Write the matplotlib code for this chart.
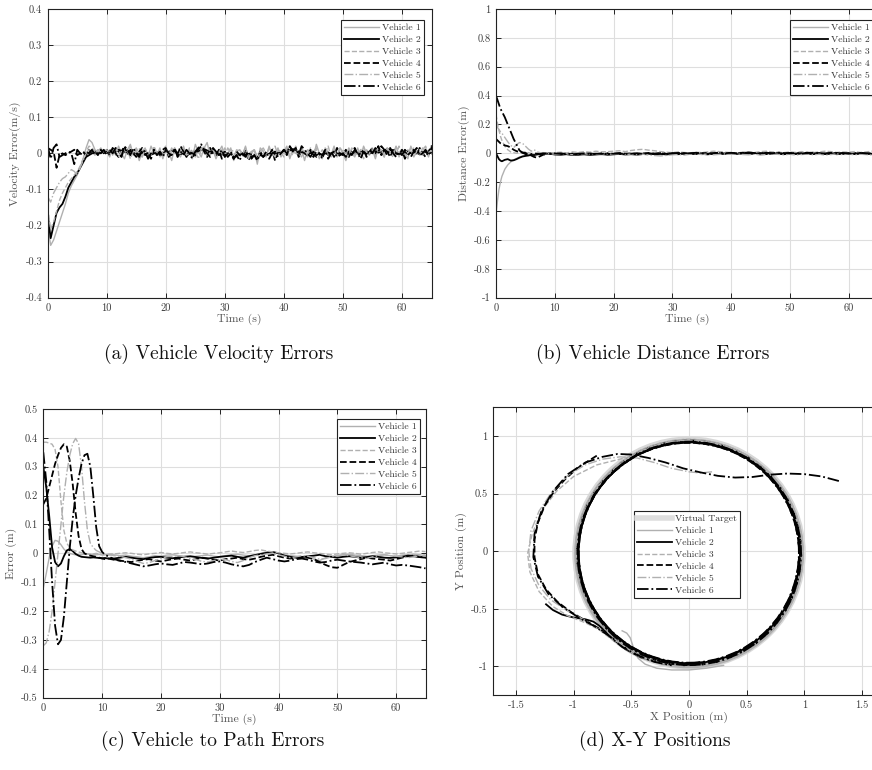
import numpy as np
import matplotlib
matplotlib.use('Agg')
import matplotlib.pyplot as plt
from matplotlib.lines import Line2D
from matplotlib.patches import Circle

plt.rcParams['font.family'] = ['cmr10', 'DejaVu Serif']
plt.rcParams['axes.unicode_minus'] = False
plt.rcParams['axes.formatter.use_mathtext'] = True

# ---------------- labels ----------------
vehicle_labels = ['Vehicle 1', 'Vehicle 2', 'Vehicle 3', 'Vehicle 4', 'Vehicle 5', 'Vehicle 6']
captions = ['(a) Vehicle Velocity Errors', '(b) Vehicle Distance Errors',
            '(c) Vehicle to Path Errors', '(d) X-Y Positions']

time_ticks = [0, 10, 20, 30, 40, 50, 60]
time_ticklabels = ['0', '10', '20', '30', '40', '50', '60']
vel_yticks = [-0.4, -0.3, -0.2, -0.1, 0, 0.1, 0.2, 0.3, 0.4]
vel_yticklabels = ['-0.4', '-0.3', '-0.2', '-0.1', '0', '0.1', '0.2', '0.3', '0.4']
dist_yticks = [-1, -0.8, -0.6, -0.4, -0.2, 0, 0.2, 0.4, 0.6, 0.8, 1]
dist_yticklabels = ['-1', '-0.8', '-0.6', '-0.4', '-0.2', '0', '0.2', '0.4', '0.6', '0.8', '1']
path_yticks = [-0.5, -0.4, -0.3, -0.2, -0.1, 0, 0.1, 0.2, 0.3, 0.4, 0.5]
path_yticklabels = ['-0.5', '-0.4', '-0.3', '-0.2', '-0.1', '0', '0.1', '0.2', '0.3', '0.4', '0.5']
xy_xticks = [-1.5, -1, -0.5, 0, 0.5, 1, 1.5]
xy_xticklabels = ['-1.5', '-1', '-0.5', '0', '0.5', '1', '1.5']
xy_yticks = [-1, -0.5, 0, 0.5, 1]
xy_yticklabels = ['-1', '-0.5', '0', '0.5', '1']

# ---------------- (a) velocity errors, mm/s, sampled every 0.5 s ----------------
vel_v1 = [-200, -255, -240, -215, -190, -165, -140, -110, -90, -75, -60, -40, -15, 15, 38, 30, 10, 5, 15, 0,
          5, -10, 15, -5, 20, 0, -15, 10, 25, -5, 10, -20, 5, 15, -10, 20, 0, -5, 15, -15,
          10, 5, -20, 15, 0, -10, 20, -5, 10, -15, 25, 5, -10, 15, 30, -5, 10, -15, 5, 20,
          -10, 0, 15, -20, 5, 10, -5, 20, -15, 0, 10, -30, 15, 5, -10, 20, -5, 0, 15, -10,
          5, 20, -15, 10, 0, -5, 15, -20, 10, 5, -10, 25, 0, -15, 10, 5, -5, 20, -10, 15,
          0, -20, 10, 5, -5, 15, -10, 20, 0, -5, 10, -15, 20, 5, -10, 15, 0, -5, 20, -10,
          10, 5, -15, 20, 0, 10, -5, 15, 5, -10, 20, 10, -5, 15, 0, 10, -10, 20, 5, 0]
vel_v2 = [-170, -235, -200, -165, -150, -140, -120, -95, -80, -65, -55, -40, -25, -10, -5, 0, 5, 0, 2, 5,
          5, 3, 8, 6, 10, 7, 4, 8, 5, 2, 0, -3, 2, -2, 1, -4, 0, 3, -1, 2,
          6, 4, 8, 5, 2, -2, 0, -5, -2, 1, 3, 6, 9, 12, 8, 5, 2, -1, -4, 0,
          -3, -6, -2, -8, -5, -3, 0, -4, -7, -9, -6, -10, -5, -8, -3, -1, 2, -2, 0, 3,
          6, 10, 8, 12, 9, 5, 3, 0, -3, 1, -2, -5, -1, -4, 0, 2, -1, 3, 0, -3,
          -1, 2, -2, 1, 3, 0, 4, 2, -2, 0, 3, 6, 2, 5, 8, 12, 9, 5, 1, -2,
          0, 3, -1, 2, 5, 1, -2, 2, 4, 0, 2, 5, 1, 3, 0, 2, 4, 1, 3, 0]
vel_v3 = [-150, -210, -190, -160, -130, -110, -95, -80, -70, -60, -50, -35, -15, 5, 20, 15, 5, 10, 0, 5,
          0, 10, -5, 15, 5, -10, 10, 0, 20, -5, 5, 15, -10, 10, 0, -5, 15, 5, -10, 10,
          20, -5, 5, 15, -10, 0, 10, -5, 15, 5, -10, 10, 20, 0, -5, 15, 5, -10, 10, 0,
          15, -5, 10, 5, -15, 10, 0, 15, -5, 5, 10, -10, 5, 15, 0, -5, 10, 20, -5, 5,
          0, 15, -10, 5, 10, -5, 15, 0, -10, 10, 5, 15, -5, 10, 0, 20, -10, 5, 15, -5,
          10, 0, -10, 15, 5, -5, 10, 15, -5, 0, 15, -5, 10, 5, -10, 15, 0, 10, -5, 20,
          5, -10, 10, 0, 15, 5, -5, 10, 20, 0, -5, 15, 5, -10, 10, 0, 15, 5, -5, 10]
vel_v4 = [15, 10, 5, -40, -5, 0, -5, 0, 5, 10, -5, 0, 5, -5, 10, 0, 5, -5, 10, 0,
          10, -5, 15, 0, -10, 5, 20, -5, 10, 0, -10, 5, 15, -5, 0, -15, 10, 5, -5, 10,
          15, -10, 0, 10, -5, 20, 5, -10, 5, 0, -5, 10, 20, 5, -10, 15, 0, -5, 10, -15,
          5, -10, 0, -15, 5, -5, -10, 10, -20, 0, -5, -15, 5, -10, 0, -5, 10, -20, 5, 0,
          10, -5, 20, 5, 15, -10, 5, 0, -5, 10, -10, 5, 0, -15, 10, -5, 5, -10, 15, 0,
          -5, 10, -10, 5, 15, -5, 0, 10, -10, 5, 15, 0, 20, -5, 10, 5, -10, 15, 0, -5,
          10, -15, 5, 0, 10, -5, 15, 0, -10, 5, 20, 0, -10, 15, 5, -5, 10, 0, 5, -5]
vel_v5 = [-120, -135, -110, -95, -80, -70, -65, -55, -45, -50, -60, -40, -20, 0, 10, 5, -5, 10, 0, 5,
          10, -5, 5, 15, -10, 5, 0, 10, -15, 5, 15, 0, -10, 10, 5, -5, 20, 0, -10, 5,
          10, -5, 15, 0, -10, 5, 15, -5, 0, 10, 5, -15, 10, 20, -5, 0, 15, -10, 5, 10,
          -5, 15, 0, -10, 10, 5, -5, 15, -15, 5, 10, -20, 5, 10, -5, 15, 0, -10, 10, 5,
          -10, 15, 5, -5, 20, 0, -10, 10, -5, 15, 0, 10, -15, 5, 15, -5, 0, 10, -10, 15,
          5, -5, 15, 0, -10, 10, 5, -15, 10, 0, 15, -10, 5, 10, -5, 15, 0, -10, 20, 5,
          -5, 10, 0, 15, -10, 5, 10, -5, 15, 0, 10, -5, 20, 5, -10, 15, 0, 5, -5, 10]
vel_v6 = [20, -15, 15, 25, -10, -5, 0, 5, 0, -30, 10, 0, -5, 5, 0, 10, -5, 5, 0, 10,
          -5, 10, 0, 15, 5, -10, 20, 10, -5, 15, 0, -10, 10, 5, -15, 0, 10, -5, 5, -10,
          10, 0, -5, 15, -10, 5, -5, 10, 0, -15, 5, 15, 25, 10, 0, -10, 15, 5, -5, 10,
          -10, 0, 5, -15, -5, -20, 0, -10, 5, -15, -5, -20, 0, -10, 5, -15, 0, 5, -10, 0,
          10, 0, 20, 5, 15, -5, 20, 10, 0, -10, 5, -10, 0, -5, 10, -15, 0, 5, -10, -5,
          0, -10, 5, -5, 10, 0, -15, 5, -5, 10, 0, 15, 5, 20, 10, -5, 15, 0, -10, 5,
          -5, 10, 0, -10, 5, 15, -5, 0, 10, -5, 15, 5, -5, 10, 0, -10, 5, 0, 10, -5]

# ---------------- (b) distance errors, mm ----------------
dist_time_early = [0, 0.25, 0.5, 0.75, 1, 1.5, 2, 2.5, 3, 3.5, 4, 4.5, 5, 5.5, 6, 6.5, 7, 7.5, 8, 9]
dist_v1_early = [-420, -330, -250, -200, -160, -110, -80, -60, -45, -35, -25, -20, -15, -10, -8, -5, -3, 0, 2, 0]
dist_v2_early = [0, -20, -40, -50, -55, -45, -40, -50, -48, -40, -30, -22, -18, -15, -10, -12, -8, -5, -3, -2]
dist_v3_early = [270, 210, 160, 120, 90, 50, 25, 10, 5, 0, 5, 8, 10, 5, 0, -2, 0, 3, 5, 2]
dist_v4_early = [100, 90, 80, 70, 65, 55, 50, 40, 25, 15, 10, 5, 3, -5, -15, -25, -30, -20, -10, -2]
dist_v5_early = [200, 180, 165, 150, 140, 110, 80, 55, 40, 60, 75, 70, 50, 30, 15, 25, 10, 5, 0, -3]
dist_v6_early = [400, 370, 340, 310, 290, 250, 200, 150, 100, 60, 20, 5, -5, -8, -5, 0, -3, -5, 0, -2]
# one value per second from t = 10 s
dist_v1_late = [-3, 2, -5, 0, 4, -2, 3, -4, 1, -6, 0, -3, 2, -5, -2, 1, -4, -8, -6, -3,
                0, 2, -3, 1, -2, 3, -1, -4, 0, 2, -3, 1, 4, -2, 0, -5, 2, -1, 3, -3,
                0, 2, -4, 1, -2, 3, 0, -3, 2, -1, 1, -2, 3, 0, -3, 2]
dist_v2_late = [-8, -10, -6, -12, -9, -7, -11, -8, -5, -10, -7, -4, -8, -6, -9, -5, -2, -6, -4, -8,
                -3, -6, -2, -5, -1, -4, -7, -3, -5, -2, 0, -4, -1, -3, 2, -2, -5, -1, -3, -6,
                -2, -4, 0, -3, -5, -1, -4, -2, -6, -3, -1, -5, -2, -4, -3, -6]
dist_v3_late = [5, 8, 3, 10, 6, 12, 8, 15, 10, 12, 15, 18, 12, 20, 25, 28, 22, 18, 12, 8,
                5, 10, 6, 3, 8, 5, 10, 15, 12, 8, 5, 3, 8, 10, 6, 12, 15, 10, 8, 5,
                10, 6, 12, 8, 5, 10, 15, 12, 6, 10, 8, 12, 6, 10, 15, 8]
dist_v4_late = [-5, 0, -6, -2, -8, -3, -1, -5, 0, -4, -2, 2, -3, 0, -5, -1, 3, -2, 0, -4,
                1, -3, 2, -1, -4, 0, 3, -2, 1, -3, 2, -1, 4, 0, -3, 1, 5, -2, 2, -1,
                3, -2, 1, 4, -1, 2, -3, 0, 3, -2, 1, -2, 2, 0, -3, 1]
dist_v5_late = [-5, -8, -3, -10, -6, -2, -8, -5, -10, -4, -7, -3, -8, -5, -10, -6, -12, -15, -18, -14,
                -10, -8, -12, -6, -3, -8, -5, -10, -7, -4, -6, -3, -8, -10, -5, -12, -8, -4, -7, -10,
                -6, -12, -8, -5, -10, -6, -12, -8, -4, -9, -5, -10, -6, -8, -12, -7]
dist_v6_late = [0, -4, -2, -6, -3, 0, -5, -2, -4, 1, -3, 0, -5, -2, 1, -4, 0, -3, 2, -1,
                0, 3, -2, 1, 4, 0, -3, 2, 5, 1, 4, 0, 3, 6, 2, -1, 4, 1, 5, 2,
                0, 3, -2, 2, 5, 1, -1, 4, 0, 3, -2, 1, 3, -1, 2, 0]

# ---------------- (c) path errors, mm ----------------
path_time_early_step = 0.5   # first 24 samples every 0.5 s, then one per second from 12 s
path_v1_early = [-120, -70, -15, 25, 45, 42, 30, 15, 5, 0, -3, -5, -4, -5, -3, -2, -4, -3, -5, -4, -6, -5, -4, -5]
path_v2_early = [300, 230, 130, 20, -30, -45, -35, -10, 10, 15, 8, -2, -8, -12, -13, -14, -15, -14, -15, -16, -17, -16, -18, -17]
path_v3_early = [385, 385, 382, 378, 360, 300, 180, 80, 35, 20, 12, 8, 5, 2, 0, -2, -3, -2, 0, -2, -3, -4, -3, -2]
path_v4_early = [170, 190, 230, 270, 310, 340, 365, 378, 370, 320, 240, 140, 60, 15, 0, -5, -8, -10, -12, -15, -18, -20, -18, -20]
path_v5_early = [-320, -310, -270, -200, -100, 0, 100, 200, 280, 340, 380, 398, 380, 300, 180, 80, 35, 20, 10, 5, 0, -3, -5, -6]
path_v6_early = [350, 250, 80, -100, -250, -315, -300, -220, -100, 20, 120, 200, 260, 310, 340, 345, 300, 200, 90, 25, 5, -5, -10, -15]
path_v1_late = [-5, -8, -6, -10, -12, -15, -12, -8, -10, -6, -5, -8, -10, -12, -10, -8, -6, -10, -12, -8,
                -5, -3, -6, -8, -5, 0, 5, 3, 0, -5, -8, -10, -12, -15, -20, -25, -15, -10, -8, -5,
                -3, -6, -8, -10, -8, -6, -5, -8, -10, -6, -5, -3, -5, -8]
path_v2_late = [-18, -15, -12, -15, -18, -20, -16, -13, -12, -15, -17, -14, -12, -10, -13, -16, -18, -15, -12, -10,
                -8, -12, -15, -10, -6, -2, 2, 5, 0, -8, -12, -15, -13, -10, -8, -5, -10, -12, -15, -12,
                -10, -12, -15, -13, -10, -12, -15, -16, -14, -12, -8, -10, -13, -15]
path_v3_late = [-2, 0, 2, 0, -3, -5, -2, 0, 3, 0, -2, 0, 3, 5, 2, 0, -3, 0, 2, 5,
                8, 5, 3, 6, 10, 12, 8, 5, 2, 0, -2, 0, 3, 5, 2, 0, -3, -5, -2, 0,
                2, 0, -3, 0, 3, 5, 2, 0, -2, 0, 3, 5, 8, 6]
path_v4_late = [-22, -25, -28, -30, -26, -22, -20, -25, -28, -24, -20, -18, -22, -25, -20, -15, -18, -22, -25, -20,
                -18, -15, -20, -22, -18, -12, -8, -5, -10, -15, -18, -15, -12, -15, -20, -30, -40, -48, -50, -40,
                -30, -25, -20, -15, -18, -20, -22, -25, -20, -15, -10, -8, -12, -15]
path_v5_late = [-8, -10, -15, -20, -28, -35, -32, -25, -18, -12, -10, -8, -12, -18, -22, -28, -30, -25, -20, -22,
                -28, -32, -25, -15, -8, -5, -2, 0, -5, -10, -15, -12, -8, -10, -15, -20, -18, -12, -8, -5,
                -8, -12, -15, -18, -12, -8, -5, -8, -10, -12, -15, -12, -8, -5]
path_v6_late = [-20, -25, -30, -35, -40, -45, -42, -38, -35, -38, -40, -35, -30, -32, -35, -38, -35, -30, -28, -32,
                -38, -42, -45, -40, -30, -22, -15, -20, -25, -28, -25, -20, -18, -22, -28, -32, -30, -25, -22, -25,
                -28, -30, -32, -35, -38, -35, -32, -38, -42, -40, -42, -45, -48, -52]

# ---------------- (d) X-Y positions, m ----------------
target_center = (0.0, -0.015)
target_radius = 0.988
xy_v1_x = [-0.58, -0.54, -0.51, -0.49, -0.47, -0.44, -0.38, -0.28, -0.15, 0.0, 0.15, 0.3]
xy_v1_y = [-0.69, -0.71, -0.75, -0.81, -0.88, -0.93, -0.98, -1.015, -1.03, -1.03, -1.015, -0.99]
xy_v2_x = [-1.24, -1.18, -1.10, -1.00, -0.90, -0.83, -0.78, -0.72, -0.65, -0.55, -0.42, -0.28, -0.10]
xy_v2_y = [-0.46, -0.51, -0.55, -0.575, -0.59, -0.61, -0.645, -0.70, -0.77, -0.85, -0.92, -0.96, -0.985]
xy_v3_x = [-0.45, -0.60, -0.80, -1.00, -1.15, -1.28, -1.36, -1.40, -1.38, -1.30, -1.18, -1.05, -0.90, -0.78, -0.65, -0.50, -0.35, -0.20]
xy_v3_y = [0.83, 0.80, 0.75, 0.65, 0.52, 0.35, 0.15, -0.02, -0.18, -0.35, -0.48, -0.56, -0.62, -0.68, -0.78, -0.88, -0.95, -0.98]
xy_v4_x = [-0.80, -0.88, -0.97, -1.07, -1.17, -1.25, -1.31, -1.34, -1.34, -1.31, -1.24, -1.14, -1.02, -0.90, -0.78, -0.68, -0.55, -0.40, -0.25, -0.10]
xy_v4_y = [0.83, 0.78, 0.72, 0.63, 0.52, 0.40, 0.25, 0.10, -0.05, -0.20, -0.33, -0.44, -0.53, -0.60, -0.67, -0.74, -0.84, -0.92, -0.97, -0.99]
xy_v5_x = [0.20, 0.10, 0.00, -0.15, -0.30, -0.45, -0.60, -0.75, -0.90, -1.05, -1.20, -1.30, -1.37, -1.39, -1.37, -1.30, -1.20, -1.05, -0.90, -0.75, -0.60, -0.45, -0.30]
xy_v5_y = [0.69, 0.68, 0.69, 0.72, 0.77, 0.81, 0.82, 0.80, 0.75, 0.66, 0.50, 0.35, 0.18, 0.00, -0.15, -0.30, -0.42, -0.52, -0.60, -0.70, -0.80, -0.90, -0.96]
xy_v6_x = [1.30, 1.15, 1.00, 0.85, 0.70, 0.55, 0.40, 0.25, 0.10, -0.05, -0.20, -0.35, -0.50, -0.62, -0.75, -0.90, -1.05, -1.18, -1.28, -1.34, -1.35, -1.31, -1.22, -1.10, -0.95, -0.82, -0.70, -0.58, -0.45, -0.30, -0.15]
xy_v6_y = [0.61, 0.65, 0.67, 0.675, 0.665, 0.645, 0.64, 0.655, 0.685, 0.72, 0.77, 0.81, 0.84, 0.845, 0.82, 0.77, 0.67, 0.52, 0.35, 0.15, -0.05, -0.22, -0.37, -0.48, -0.58, -0.65, -0.73, -0.83, -0.90, -0.96, -0.99]
# converged laps (centre x, centre y, radius) per vehicle
loop_v1 = [(0.0, -0.02, 0.99), (0.005, -0.015, 0.985)]
loop_v2 = [(0.0, -0.015, 0.975), (0.0, -0.018, 0.968), (0.003, -0.012, 0.96)]
loop_v3 = [(0.0, -0.01, 0.982), (-0.005, -0.015, 0.978)]
loop_v4 = [(0.0, -0.018, 0.965), (0.0, -0.012, 0.973), (-0.003, -0.015, 0.957)]
loop_v5 = [(0.0, -0.012, 0.976), (0.005, -0.02, 0.982)]
loop_v6 = [(0.0, -0.015, 0.962), (0.002, -0.018, 0.97), (-0.002, -0.012, 0.955)]

# ---------------- styling ----------------
GRAY = '#b0b0b0'
BLACK = '#000000'
styles = [dict(color=GRAY, ls='-', lw=1.0),
          dict(color=BLACK, ls='-', lw=1.3),
          dict(color=GRAY, ls='--', lw=1.0),
          dict(color=BLACK, ls='--', lw=1.3),
          dict(color=GRAY, ls='-.', lw=1.0),
          dict(color=BLACK, ls='-.', lw=1.3)]
TICKC = '#3c3c3c'
LABC = '#555555'

W, H = 872, 770
fig = plt.figure(figsize=(W / 100, H / 100), dpi=100)


def px_axes(left, top, right, bottom):
    return fig.add_axes([left / W, 1 - bottom / H, (right - left) / W, (bottom - top) / H])


def style(ax, xlim, ylim, xt, xtl, yt, ytl, xlabel, ylabel):
    ax.set_xlim(*xlim)
    ax.set_ylim(*ylim)
    ax.set_xticks(xt)
    ax.set_xticklabels(xtl)
    ax.set_yticks(yt)
    ax.set_yticklabels(ytl)
    ax.grid(True, color='#dedede', lw=0.8)
    ax.set_axisbelow(True)
    ax.tick_params(direction='in', top=True, right=True, length=3.5, width=0.7,
                   labelsize=7.5, labelcolor=TICKC, color='#222222', pad=4)
    for s in ax.spines.values():
        s.set_linewidth(0.8)
        s.set_color('#222222')
    if xlabel:
        ax.set_xlabel(xlabel, fontsize=8.5, color=LABC, labelpad=1)
    ax.set_ylabel(ylabel, fontsize=8.5, color=LABC, labelpad=3)


def add_legend(ax, handles, labels, left, top):
    leg = ax.legend(handles, labels, loc='upper left', bbox_to_anchor=(left / W, 1 - top / H),
                    bbox_transform=fig.transFigure, fontsize=7, handlelength=3.6,
                    handletextpad=0.3, labelspacing=0.32, borderpad=0.35, borderaxespad=0,
                    fancybox=False, framealpha=1, edgecolor='#222222')
    leg.get_frame().set_linewidth(0.8)
    for t in leg.get_texts():
        t.set_color('#333333')
    return leg


# (a)
ax_a = px_axes(47.7, 9, 431.5, 297.7)
vel_series = [vel_v1, vel_v2, vel_v3, vel_v4, vel_v5, vel_v6]
lines = []
for vals, st in zip(vel_series, styles):
    t = np.arange(len(vals)) * 0.5
    ln, = ax_a.plot(t, np.array(vals) / 1000.0, **st)
    lines.append(ln)
style(ax_a, (0, 65), (-0.4, 0.4), time_ticks, time_ticklabels, vel_yticks, vel_yticklabels,
      'Time (s)', 'Velocity Error(m/s)')
add_legend(ax_a, lines, vehicle_labels, 341, 20)

# (b)
ax_b = px_axes(496, 9, 878, 297.7)
dist_early = [dist_v1_early, dist_v2_early, dist_v3_early, dist_v4_early, dist_v5_early, dist_v6_early]
dist_late = [dist_v1_late, dist_v2_late, dist_v3_late, dist_v4_late, dist_v5_late, dist_v6_late]
lines = []
for e, l, st in zip(dist_early, dist_late, styles):
    t = np.concatenate([dist_time_early, 10 + np.arange(len(l))])
    y = np.array(e + l) / 1000.0
    ln, = ax_b.plot(t, y, **st)
    lines.append(ln)
style(ax_b, (0, 65), (-1, 1), time_ticks, time_ticklabels, dist_yticks, dist_yticklabels,
      'Time (s)', 'Distance Error(m)')
add_legend(ax_b, lines, vehicle_labels, 790, 20)

# (c)
ax_c = px_axes(43.3, 409, 425.5, 697.7)
path_early = [path_v1_early, path_v2_early, path_v3_early, path_v4_early, path_v5_early, path_v6_early]
path_late = [path_v1_late, path_v2_late, path_v3_late, path_v4_late, path_v5_late, path_v6_late]
lines = []
for e, l, st in zip(path_early, path_late, styles):
    t = np.concatenate([np.arange(len(e)) * path_time_early_step, 12 + np.arange(len(l))])
    y = np.array(e + l) / 1000.0
    ln, = ax_c.plot(t, y, **st)
    lines.append(ln)
style(ax_c, (0, 65), (-0.5, 0.5), time_ticks, time_ticklabels, path_yticks, path_yticklabels,
      'Time (s)', 'Error (m)')
add_legend(ax_c, lines, vehicle_labels, 337, 419)

# (d)
ax_d = px_axes(493, 407.3, 885, 695.3)
ax_d.add_patch(Circle(target_center, target_radius, fill=False, ec='#d8d8d8', lw=4, zorder=2))
xs = [xy_v1_x, xy_v2_x, xy_v3_x, xy_v4_x, xy_v5_x, xy_v6_x]
ys = [xy_v1_y, xy_v2_y, xy_v3_y, xy_v4_y, xy_v5_y, xy_v6_y]
loops = [loop_v1, loop_v2, loop_v3, loop_v4, loop_v5, loop_v6]
for k, (x, y, lp, st) in enumerate(zip(xs, ys, loops, styles)):
    ax_d.plot(x, y, zorder=3 + k, **st)
    for cx, cy, r in lp:
        ax_d.add_patch(Circle((cx, cy), r, fill=False, ec=st['color'], ls=st['ls'],
                              lw=st['lw'], zorder=3 + k))
style(ax_d, (-1.7, 1.7), (-1.25, 1.25), xy_xticks, xy_xticklabels, xy_yticks, xy_yticklabels,
      'X Position (m)', 'Y Position (m)')
handles = [Line2D([], [], color='#dedede', lw=4)] + [Line2D([], [], **st) for st in styles]
add_legend(ax_d, handles, ['Virtual Target'] + vehicle_labels, 634, 511)

# captions
fig.text(219 / W, 1 - 354 / H, captions[0], ha='center', va='center', fontsize=14, color='#111111')
fig.text(653 / W, 1 - 354 / H, captions[1], ha='center', va='center', fontsize=14, color='#111111')
fig.text(213 / W, 1 - 741 / H, captions[2], ha='center', va='center', fontsize=14, color='#111111')
fig.text(655 / W, 1 - 741 / H, captions[3], ha='center', va='center', fontsize=14, color='#111111')

fig.savefig('out.png', dpi=100)
